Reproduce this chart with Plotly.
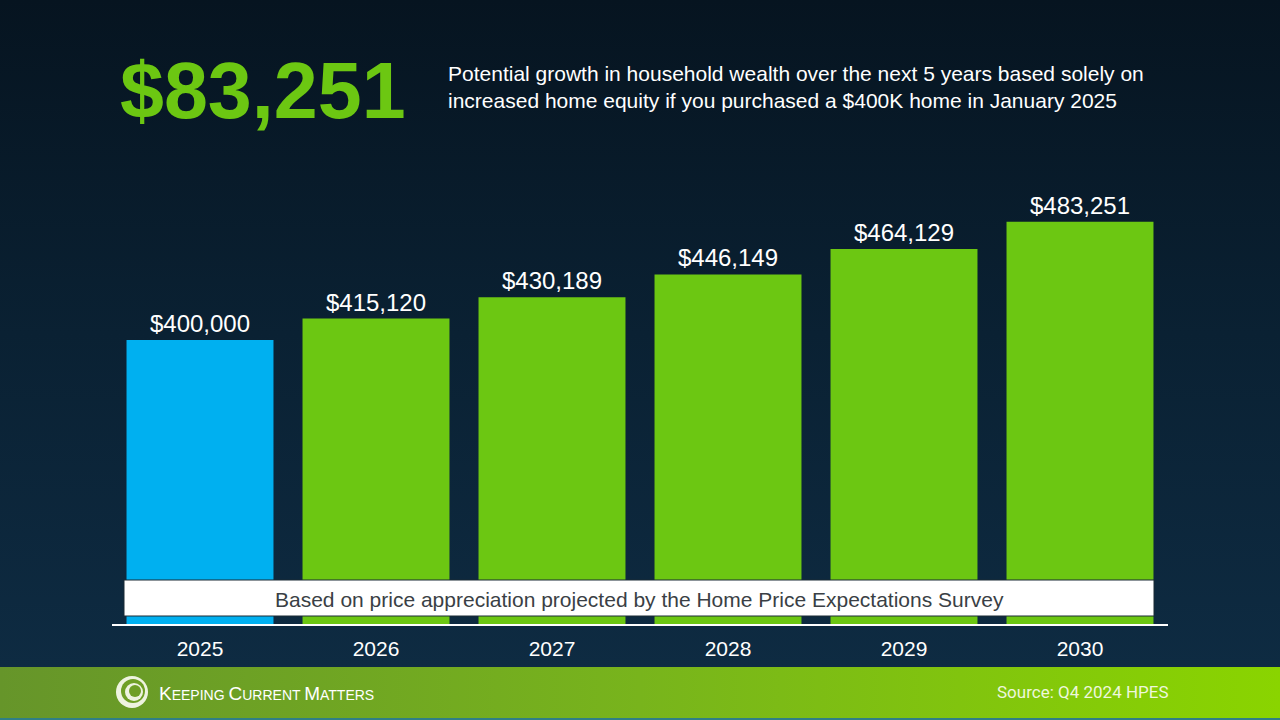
import plotly.graph_objects as go
import base64

years = ["2025", "2026", "2027", "2028", "2029", "2030"]
values = [400000, 415120, 430189, 446149, 464129, 483251]
bar_colors = ["#00b0f0", "#6cc712", "#6cc712", "#6cc712", "#6cc712", "#6cc712"]
headline = "$83,251"
subtitle = ("Potential growth in household wealth over the next 5 years based solely on<br>"
            "increased home equity if you purchased a $400K home in January 2025")
banner_text = "Based on price appreciation projected by the Home Price Expectations Survey"
source_text = "Source: Q4 2024 HPES"

W, H = 1280, 720
L, R, T, B = 112, 112, 180, 96
PW, PH = W - L - R, H - T - B


def px(x):
    return (x - L) / PW


def py(y):
    return (H - B - y) / PH


svg = f'''<svg xmlns="http://www.w3.org/2000/svg" width="{W}" height="{H}" viewBox="0 0 {W} {H}" preserveAspectRatio="none">
<defs>
<linearGradient id="bg" x1="0" y1="0" x2="0" y2="1">
<stop offset="0" stop-color="#061420"/>
<stop offset="0.5" stop-color="#0a2133"/>
<stop offset="1" stop-color="#0e2b42"/>
</linearGradient>
<linearGradient id="ft" x1="0" y1="0" x2="1" y2="0">
<stop offset="0" stop-color="#66952a"/>
<stop offset="0.5" stop-color="#78b41c"/>
<stop offset="1" stop-color="#8ad400"/>
</linearGradient>
</defs>
<rect x="0" y="0" width="{W}" height="667" fill="url(#bg)"/>
<rect x="0" y="667" width="{W}" height="51" fill="url(#ft)"/>
<rect x="0" y="718" width="{W}" height="2" fill="#2f7f86"/>
</svg>'''
svg_uri = "data:image/svg+xml;base64," + base64.b64encode(svg.encode()).decode()

fig = go.Figure()
fig.add_trace(go.Bar(
    x=years, y=values, marker=dict(color=bar_colors, line=dict(width=0)),
    texttemplate="$%{y:,.0f}", textposition="outside", cliponaxis=False,
    textfont=dict(family="Arial, Liberation Sans", size=24, color="white"),
    hoverinfo="skip",
))

fig.update_layout(
    width=W, height=H,
    margin=dict(l=L, r=R, t=T, b=B, pad=0),
    paper_bgcolor="#0a2133", plot_bgcolor="rgba(0,0,0,0)",
    bargap=0.165, showlegend=False,
    font=dict(family="Arial, Liberation Sans", color="white"),
    xaxis=dict(range=[-0.5, 5.5], showline=True, linecolor="white", linewidth=2,
               showgrid=False, zeroline=False, ticks="outside", ticklen=5,
               tickcolor="rgba(0,0,0,0)", tickfont=dict(size=21, color="white")),
    yaxis=dict(range=[200000, 512676], visible=False, showgrid=False, zeroline=False),
    images=[dict(source=svg_uri, xref="paper", yref="paper", x=px(0), y=py(0),
                 sizex=W / PW, sizey=H / PH, xanchor="left", yanchor="top",
                 sizing="stretch", layer="below")],
)

shapes = [
    dict(type="rect", xref="paper", yref="paper", x0=px(124), x1=px(1154), y0=py(616), y1=py(580),
         fillcolor="white", line=dict(color="#1a2a35", width=1), layer="above"),
    # logo
    dict(type="circle", xref="paper", yref="paper", x0=px(116), x1=px(148), y0=py(708), y1=py(676),
         fillcolor="#eef3e0", line=dict(width=0)),
    dict(type="circle", xref="paper", yref="paper", x0=px(121), x1=px(145), y0=py(703), y1=py(679),
         fillcolor="#6f9f26", line=dict(width=0)),
    dict(type="circle", xref="paper", yref="paper", x0=px(125), x1=px(143), y0=py(701), y1=py(683),
         fillcolor="#eef3e0", line=dict(width=0)),
    dict(type="circle", xref="paper", yref="paper", x0=px(129), x1=px(141), y0=py(697), y1=py(685),
         fillcolor="#6f9f26", line=dict(width=0)),
]
fig.update_layout(shapes=shapes)

annotations = [
    dict(text=f"<b>{headline}</b>", x=px(118), y=py(90), xanchor="left", yanchor="middle",
         font=dict(family="Arial, Liberation Sans", size=79, color="#6cc712")),
    dict(text=subtitle, x=px(446), y=py(87), xanchor="left", yanchor="middle", align="left",
         font=dict(family="Arial, Liberation Sans", size=21, color="white")),
    dict(text=banner_text, x=px(639), y=py(599), xanchor="center", yanchor="middle",
         font=dict(family="Arial, Liberation Sans", size=21, color="#3a3f45")),
    dict(text=("<span style='font-size:19px'>K</span>EEPING "
               "<span style='font-size:19px'>C</span>URRENT "
               "<span style='font-size:19px'>M</span>ATTERS"),
         x=px(157), y=py(693), xanchor="left", yanchor="middle",
         font=dict(family="Arial, Liberation Sans", size=14, color="white")),
    dict(text=source_text, x=px(1171), y=py(692), xanchor="right", yanchor="middle",
         font=dict(family="Roboto, Arial", size=17, color="#eef7dc")),
]
for a in annotations:
    a.update(xref="paper", yref="paper", showarrow=False)
fig.update_layout(annotations=annotations)

fig.write_html("out.html")
